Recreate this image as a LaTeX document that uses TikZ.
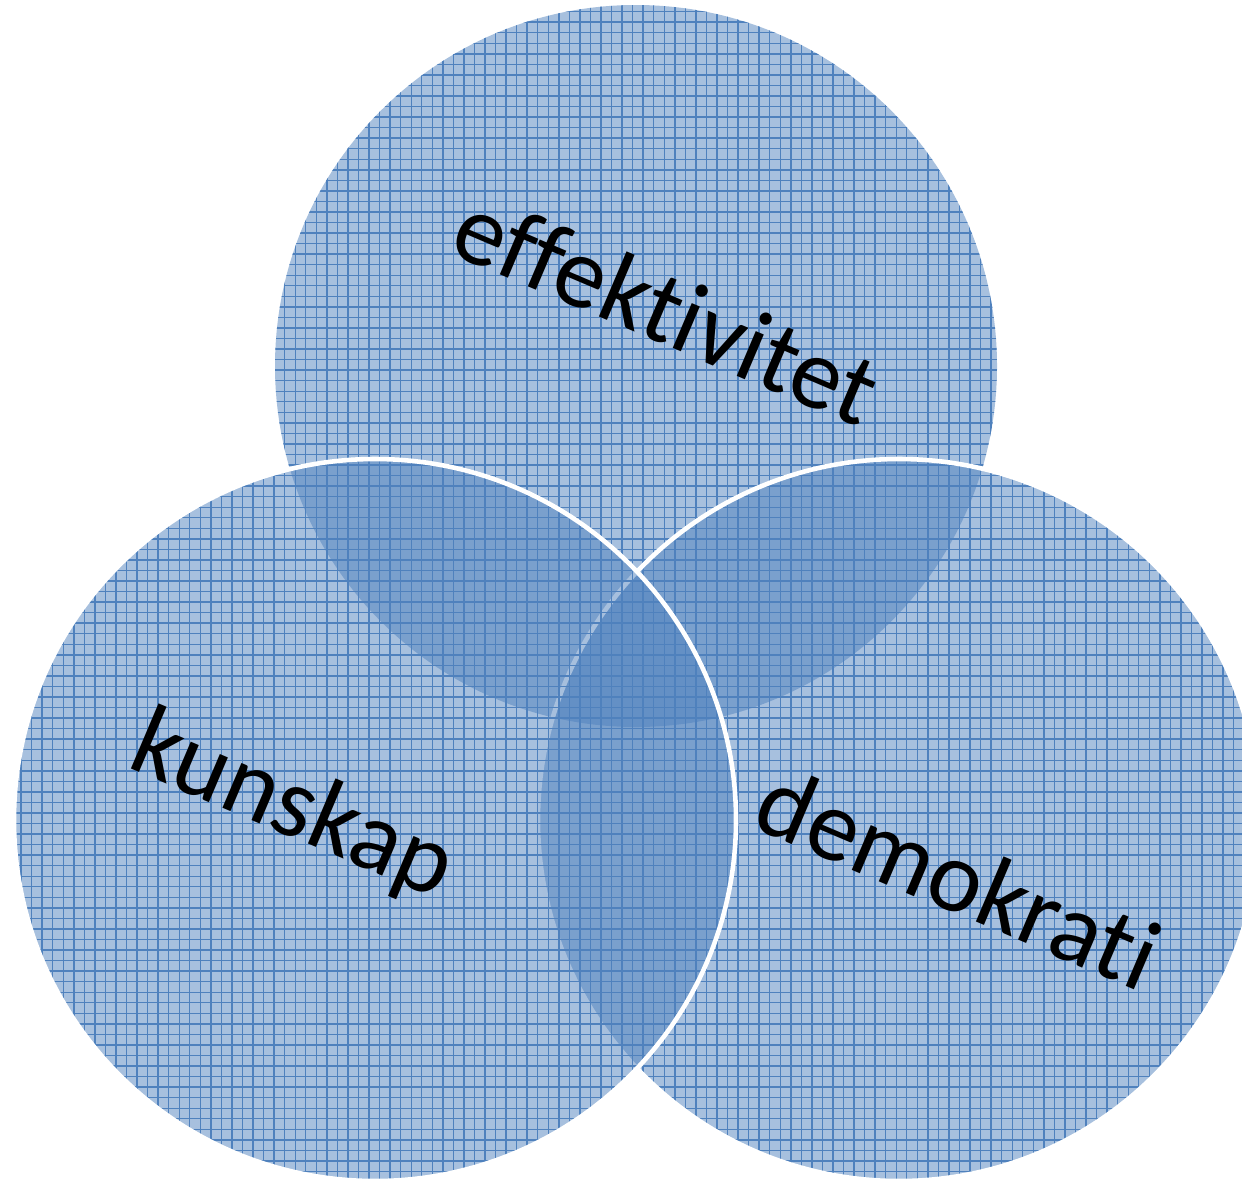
\documentclass[tikz,border=0pt]{standalone}
\usepackage{fontspec}
\setmainfont{Carlito}[RawFeature={-liga;-clig;-calt;-dlig}]
\usetikzlibrary{patterns}
\definecolor{vennblue}{RGB}{79,129,189}
\tikzset{
  venn/.style={fill=vennblue, fill opacity=0.5},
  venngrid/.style={pattern=grid, pattern color=vennblue, fill opacity=0.3},
  vennedge/.style={draw=white, line width=1.3pt},
  vennword/.style={font=\fontsize{29}{31}\selectfont, text=black, inner sep=0pt}
}

\begin{document}
\begin{tikzpicture}
			%%%%% START %%%%%
			
			\useasboundingbox (0, 0) rectangle (12.42, 11.82);
			\clip (0, 0) rectangle (12.42, 11.82);
			
			% top
			\fill[venn] (6.36, 8.16) circle (3.61);
			\fill[venngrid] (6.36, 8.16) circle (3.61);
			
			% right
			\fill[venn] (8.99, 3.62) circle (3.61);
			\fill[venngrid] (8.99, 3.62) circle (3.61);
			\draw[vennedge] (8.99, 3.62) circle (3.61);
			
			% left
			\fill[venn] (3.75, 3.62) circle (3.61);
			\fill[venngrid] (3.75, 3.62) circle (3.61);
			\draw[vennedge] (3.75, 3.62) circle (3.61);
			
			\node[vennword, rotate=-23] (eff) at (6.67, 8.74) {effektivitet};
			\node[vennword, rotate=-23] (kun) at (2.92, 3.74) {kunskap};
			\node[vennword, rotate=-23] (dem) at (9.59, 3.05) {demokrati};
			
			%%%%% END %%%%%
\end{tikzpicture}
\end{document}
